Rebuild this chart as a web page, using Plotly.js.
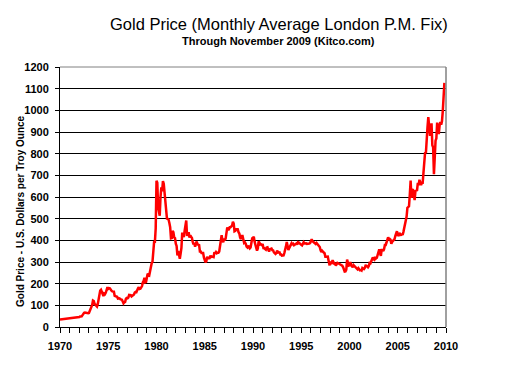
<!DOCTYPE html>
<html>
<head>
<meta charset="utf-8">
<script src="https://cdn.plot.ly/plotly-3.0.1.min.js"></script>
<style>html,body{margin:0;padding:0;background:#fff;}#chart{width:508px;height:365px;}</style>
</head>
<body>
<div id="chart"></div>
<script>
// Monthly average London P.M. fix, USD per troy ounce (Jan..Dec each year)
const startYear = 1970;
const prices1970s = [
  35.0, 35.4, 35.1, 35.6, 35.9, 35.4, 35.3, 35.4, 36.2, 37.5, 37.4, 37.4,
  37.9, 38.7, 38.9, 39.0, 40.5, 40.1, 41.0, 42.7, 42.0, 42.5, 42.9, 43.5,
  45.7, 48.3, 48.3, 49.0, 54.6, 62.1, 65.7, 67.0, 65.5, 64.9, 62.9, 63.9,
  65.1, 74.2, 84.4, 90.5, 102.0, 122.5, 120.2, 106.8, 103.0, 100.1, 94.8, 106.7,
  129.2, 150.2, 168.4, 172.2, 163.3, 154.1, 143.0, 154.6, 151.8, 158.8, 181.7, 183.8,
  176.3, 179.6, 178.2, 169.9, 167.4, 164.2, 165.2, 163.1, 144.1, 142.7, 142.8, 139.3,
  131.0, 131.0, 132.6, 128.0, 128.1, 125.7, 117.8, 109.4, 114.1, 116.1, 130.4, 133.7,
  132.3, 136.2, 148.2, 149.2, 146.7, 140.9, 143.3, 144.9, 149.6, 158.7, 161.9, 160.5,
  173.1, 178.2, 183.7, 175.3, 176.3, 183.7, 188.7, 206.0, 212.5, 227.3, 206.0, 207.8,
  227.3, 245.7, 242.1, 239.2, 257.6, 279.1, 294.7, 300.8, 355.1, 391.7, 392.5, 455.1
];
const prices1980s = [
  675.3, 665.3, 553.6, 517.4, 513.8, 600.7, 644.3, 626.5, 673.6, 661.2, 623.5, 594.9,
  557.4, 500.0, 498.8, 495.8, 480.0, 460.8, 409.3, 410.6, 443.3, 437.8, 413.4, 410.1,
  384.3, 374.2, 330.3, 350.5, 333.6, 314.7, 339.0, 364.6, 435.7, 422.5, 414.4, 444.4,
  481.6, 491.7, 420.8, 432.8, 437.4, 412.9, 422.5, 416.5, 411.9, 394.0, 381.7, 388.0,
  370.9, 386.0, 394.5, 381.7, 377.5, 378.3, 348.1, 348.0, 341.1, 340.2, 341.2, 320.2,
  303.0, 298.9, 303.9, 324.0, 316.6, 316.6, 317.5, 329.9, 323.4, 325.1, 325.4, 322.6,
  345.2, 339.0, 345.8, 340.4, 342.6, 342.6, 348.3, 376.6, 418.8, 423.6, 398.4, 391.3,
  408.3, 401.1, 408.9, 438.4, 460.0, 449.6, 450.5, 460.3, 460.0, 464.3, 467.8, 486.3,
  477.8, 442.0, 444.1, 451.6, 451.0, 451.4, 437.7, 431.4, 412.7, 406.1, 419.9, 419.8,
  404.0, 387.8, 390.2, 384.3, 371.0, 367.6, 375.0, 365.4, 362.6, 366.7, 394.3, 409.4
];
const prices1990s = [
  410.1, 416.8, 393.1, 374.3, 369.1, 352.3, 362.5, 394.7, 389.4, 380.6, 381.4, 378.2,
  383.6, 363.8, 363.3, 358.4, 356.8, 366.7, 367.7, 356.2, 348.7, 358.7, 359.6, 361.7,
  354.5, 353.9, 344.3, 338.6, 337.2, 340.8, 353.1, 343.0, 345.3, 344.4, 335.0, 334.8,
  329.0, 329.3, 330.1, 342.2, 367.2, 371.9, 392.0, 378.5, 355.3, 364.2, 373.8, 383.3,
  386.9, 382.0, 384.0, 377.3, 381.4, 385.6, 385.5, 380.4, 391.6, 389.8, 384.4, 379.3,
  379.0, 376.6, 382.0, 391.0, 385.3, 387.6, 386.2, 383.6, 383.1, 383.0, 385.5, 387.4,
  399.4, 404.7, 396.2, 392.8, 391.9, 385.3, 383.5, 387.5, 383.1, 381.1, 377.9, 369.0,
  355.0, 346.6, 351.8, 344.5, 343.8, 340.8, 324.1, 324.0, 322.8, 324.9, 306.0, 288.7,
  289.1, 297.5, 295.9, 308.4, 299.1, 292.3, 292.9, 284.1, 289.0, 295.9, 294.1, 291.6,
  287.1, 287.3, 286.0, 282.6, 276.4, 261.3, 256.1, 256.7, 265.0, 310.7, 293.2, 283.1
];
const prices2000s = [
  284.6, 299.9, 286.4, 279.7, 275.3, 285.7, 281.6, 274.5, 273.7, 270.0, 266.0, 271.5,
  265.5, 261.9, 263.0, 260.5, 272.4, 270.2, 267.5, 272.4, 283.4, 283.1, 276.2, 275.9,
  281.7, 295.5, 294.0, 302.7, 314.5, 321.2, 313.3, 310.3, 319.2, 316.6, 319.2, 333.4,
  356.9, 359.0, 340.6, 328.2, 355.7, 356.4, 351.0, 359.8, 378.9, 378.9, 389.9, 407.6,
  414.0, 405.3, 406.7, 403.0, 383.8, 392.4, 398.1, 400.5, 405.3, 420.5, 439.4, 442.1,
  424.0, 423.4, 434.2, 429.2, 421.9, 430.7, 424.5, 437.9, 456.0, 469.9, 476.7, 509.8,
  549.9, 555.0, 557.1, 610.6, 675.4, 596.2, 633.7, 632.6, 598.2, 585.8, 627.8, 629.8,
  631.2, 664.8, 654.9, 679.4, 666.9, 655.5, 665.3, 665.4, 712.7, 754.6, 806.3, 803.2,
  889.6, 922.3, 968.4, 909.7, 888.7, 889.5, 939.8, 839.0, 829.9, 705.0, 790.0, 860.0,
  870.0, 943.2, 924.3, 890.2, 928.6, 945.7, 934.2, 949.4, 996.6, 1043.2, 1127.0
];
const yTicks = [0,100,200,300,400,500,600,700,800,900,1000,1100,1200];
const xTickYears = [1970,1971,1972,1973,1974,1975,1976,1977,1978,1979,1980,1981,1982,1983,1984,1985,
  1986,1987,1988,1989,1990,1991,1992,1993,1994,1995,1996,1997,1998,1999,2000,2001,2002,2003,2004,2005,
  2006,2007,2008,2009,2010];
const xTickLabels = [1970,1975,1980,1985,1990,1995,2000,2005,2010];

const prices = prices1970s.concat(prices1980s, prices1990s, prices2000s);
const dates = prices.map((_, i) => startYear + i / 12);

const boldFont = {family: 'Arial, "Liberation Sans", sans-serif', size: 11, color: '#000', weight: 'bold'};

Plotly.newPlot('chart', [{
  x: dates, y: prices, type: 'scatter', mode: 'lines',
  line: {color: '#ff0000', width: 2.5}, hoverinfo: 'skip'
}], {
  width: 508, height: 365,
  margin: {l: 60, r: 62, t: 67, b: 38},
  paper_bgcolor: '#ffffff', plot_bgcolor: '#ffffff',
  showlegend: false,
  xaxis: {
    range: [1970, 2010], tickmode: 'array', tickvals: xTickYears,
    ticktext: xTickYears.map(y => xTickLabels.includes(y) ? String(y) : ''),
    ticks: 'outside', ticklen: 5, tickcolor: '#000', tickwidth: 1,
    showgrid: false, zeroline: false,
    showline: true, linecolor: '#000', linewidth: 1,
    tickfont: boldFont, ticklabelstandoff: 4
  },
  yaxis: {
    range: [0, 1200], tickmode: 'array', tickvals: yTicks, ticktext: yTicks.map(String),
    ticks: 'outside', ticklen: 4, tickcolor: '#000',
    showgrid: true, gridcolor: '#000', gridwidth: 1, zeroline: false,
    showline: true, linecolor: '#000', linewidth: 1,
    tickfont: boldFont, ticklabelstandoff: 4
  },
  shapes: [
    {type: 'line', xref: 'paper', yref: 'paper', x0: 0, x1: 1, y0: 1, y1: 1, line: {color: '#808080', width: 1}},
    {type: 'line', xref: 'paper', yref: 'paper', x0: 1, x1: 1, y0: 0, y1: 1, line: {color: '#808080', width: 1.5}}
  ],
  annotations: [
    {text: 'Gold Price (Monthly Average London P.M. Fix)', xref: 'paper', yref: 'paper',
     x: (279 - 60) / 386, y: (327 - 24) / 260, xanchor: 'center', yanchor: 'middle', showarrow: false,
     font: {family: 'Arial, "Liberation Sans", sans-serif', size: 16.5, color: '#000'}},
    {text: 'Through November 2009 (Kitco.com)', xref: 'paper', yref: 'paper',
     x: (278 - 60) / 386, y: (327 - 41) / 260, xanchor: 'center', yanchor: 'middle', showarrow: false,
     font: {family: 'Arial, "Liberation Sans", sans-serif', size: 11, color: '#000', weight: 'bold'}},
    {text: 'Gold Price - U.S. Dollars per Troy Ounce', xref: 'paper', yref: 'paper',
     x: (20 - 60) / 386, y: (327 - 211) / 260, xanchor: 'center', yanchor: 'middle', showarrow: false,
     textangle: -90,
     font: {family: 'Arial, "Liberation Sans", sans-serif', size: 10, color: '#000', weight: 'bold'}}
  ]
}, {staticPlot: true});
</script>
</body>
</html>
